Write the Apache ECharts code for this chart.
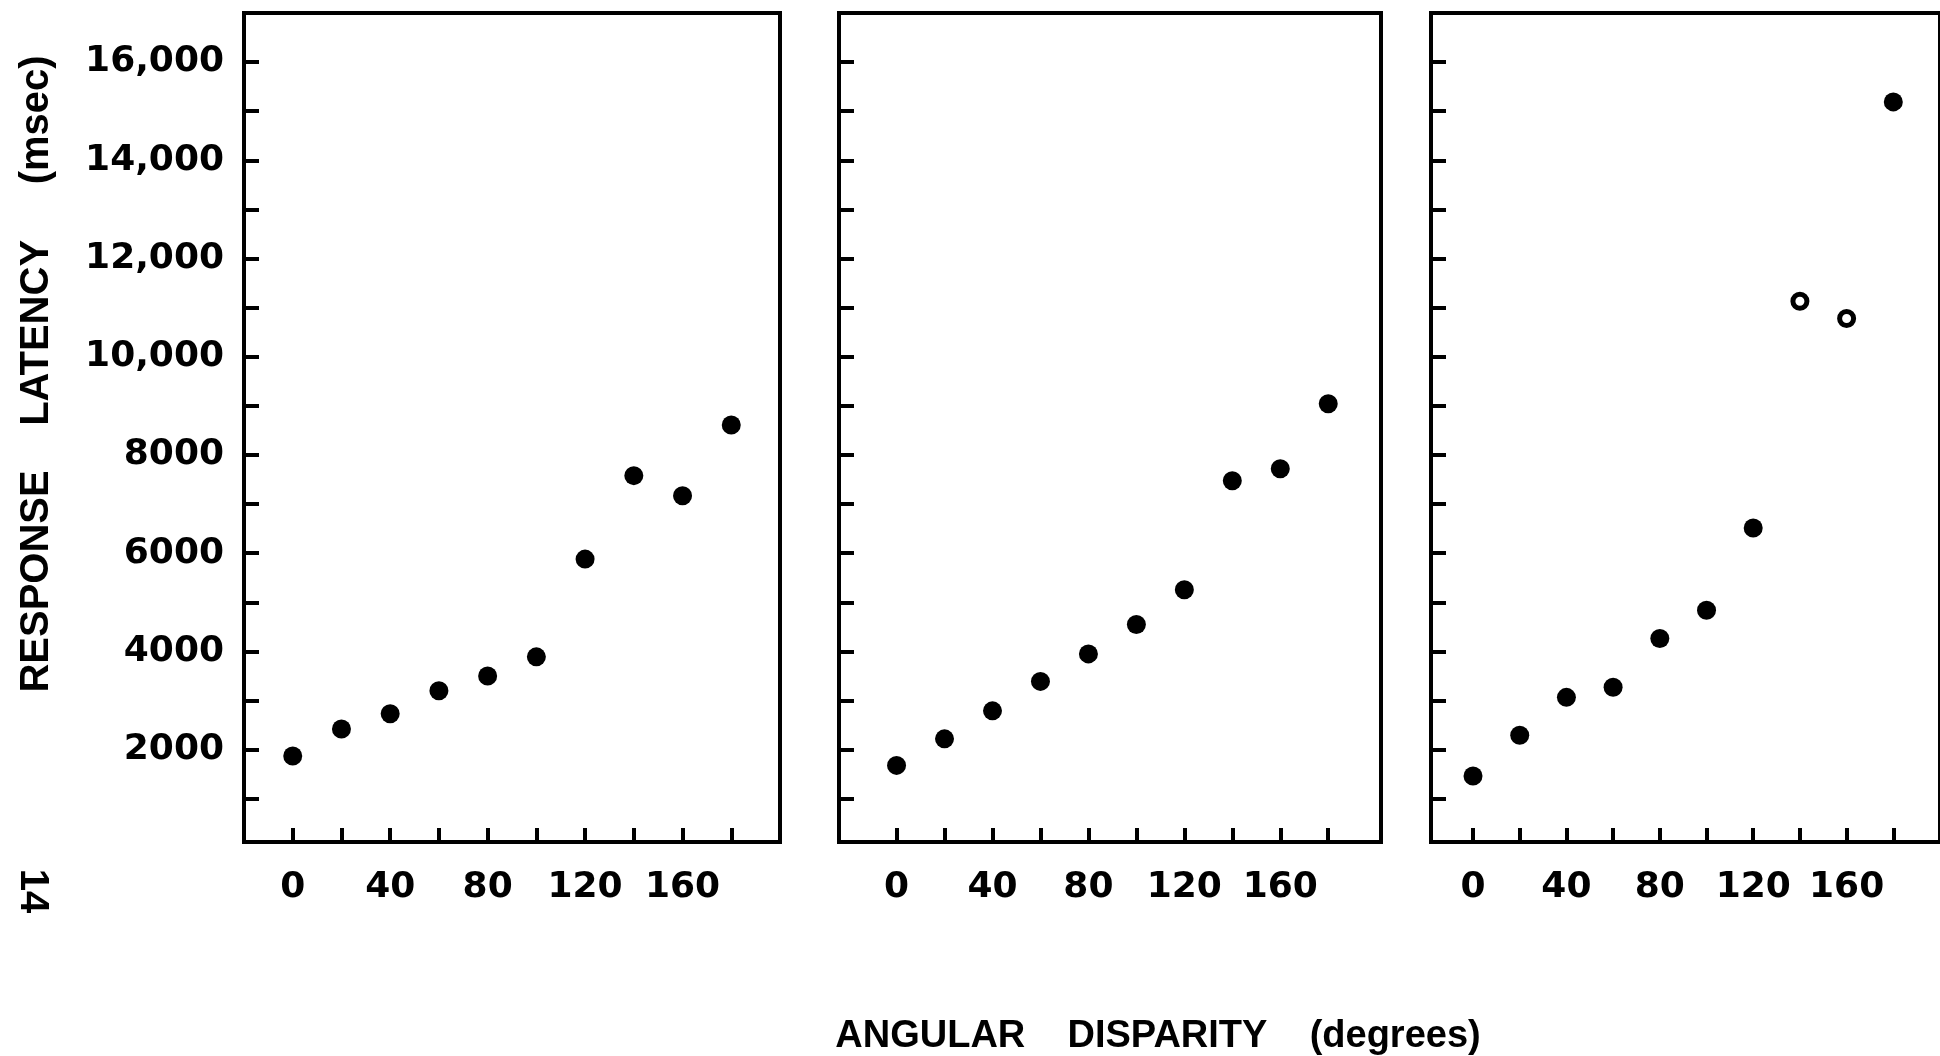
<!DOCTYPE html>
<html>
<head>
<meta charset="utf-8">
<title>Response latency vs angular disparity</title>
<script src="https://cdn.jsdelivr.net/npm/echarts@6/dist/echarts.min.js"></script>
<style>
  html, body { margin: 0; padding: 0; background: #fff; }
  #chart { width: 1940px; height: 1056px; }
</style>
</head>
<body>
<div id="chart"></div>
<script>
  // angular disparity (degrees), one point every 20
  var angles = [0, 20, 40, 60, 80, 100, 120, 140, 160, 180];
  // response latency (msec)
  var panelLeft = [1870, 2420, 2730, 3200, 3500, 3890, 5880, 7580, 7170, 8610];
  var panelMiddle = [1680, 2220, 2790, 3390, 3950, 4550, 5255, 7475, 7720, 9045];
  var panelRight = [1465, 2295, 3065, 3270, 4265, 4840, 6515, 11130, 10780, 15190];
  // the two faint, broken dots in the right panel
  var faintRight = [140, 160];

  var yTicks = [1000, 2000, 3000, 4000, 5000, 6000, 7000, 8000, 9000, 10000, 11000, 12000, 13000, 14000, 15000, 16000];
  var yLabels = [2000, 4000, 6000, 8000, 10000, 12000, 14000, 16000];
  var xTicks = [0, 20, 40, 60, 80, 100, 120, 140, 160, 180];
  var xLabels = [0, 40, 80, 120, 160];

  var ink = '#000';
  var font = 'DejaVu Sans';

  function fmtY(v) {
    // 10,000 and up get a comma, as in the figure
    if (v >= 10000) {
      return Math.floor(v / 1000) + ',000';
    }
    return String(v);
  }

  var grids = [
    {left: 244, top: 13, width: 536, height: 829},
    {left: 839, top: 13, width: 542, height: 829},
    {left: 1431, top: 13, width: 522, height: 829}
  ];
  var xRanges = [[-20, 200], [-24, 202], [-18, 200]];

  var xAxes = xRanges.map(function (r, i) {
    return {
      type: 'value',
      gridIndex: i,
      min: r[0],
      max: r[1],
      axisLine: {show: true, onZero: false, lineStyle: {color: ink, width: 4}},
      axisTick: {
        show: true, inside: true, length: 14,
        customValues: xTicks,
        lineStyle: {color: ink, width: 4}
      },
      axisLabel: {
        show: true, margin: 28,
        customValues: xLabels,
        color: ink, fontFamily: font, fontWeight: 'bold', fontSize: 36
      },
      splitLine: {show: false}
    };
  });

  var yAxes = grids.map(function (g, i) {
    return {
      type: 'value',
      gridIndex: i,
      min: 120,
      max: 17000,
      axisLine: {show: true, onZero: false, lineStyle: {color: ink, width: 4}},
      axisTick: {
        show: true, inside: true, length: 15,
        customValues: yTicks,
        lineStyle: {color: ink, width: 4}
      },
      axisLabel: {
        show: i === 0, margin: 20,
        customValues: yLabels,
        formatter: fmtY,
        color: ink, fontFamily: font, fontWeight: 'bold', fontSize: 36
      },
      splitLine: {show: false}
    };
  });

  function pts(values, faint) {
    return angles.map(function (a, k) {
      var item = {value: [a, values[k]]};
      if (faint && faint.indexOf(a) >= 0) {
        // printed as hollow, broken rings
        item.symbolSize = 14;
        item.itemStyle = {color: '#fff', borderColor: ink, borderWidth: 5, opacity: 1};
      }
      return item;
    });
  }

  var seriesValues = [panelLeft, panelMiddle, panelRight];
  var series = seriesValues.map(function (vals, i) {
    return {
      type: 'scatter',
      xAxisIndex: i,
      yAxisIndex: i,
      symbol: 'circle',
      symbolSize: 19,
      itemStyle: {color: ink, opacity: 1},
      emphasis: {disabled: true},
      data: pts(vals, i === 2 ? faintRight : null)
    };
  });

  var myChart = echarts.init(document.getElementById('chart'));
  var option = {
    backgroundColor: '#fff',
    animation: false,
    grid: grids.map(function (g) {
      return {
        left: g.left, top: g.top, width: g.width, height: g.height,
        show: true, borderColor: ink, borderWidth: 4, backgroundColor: 'transparent'
      };
    }),
    xAxis: xAxes,
    yAxis: yAxes,
    series: series,
    graphic: [
      {
        // y axis title, reads bottom to top
        type: 'text',
        x: 37, y: 374,
        rotation: Math.PI / 2,
        style: {
          text: 'RESPONSE    LATENCY     (msec)',
          fill: ink,
          font: 'bold 40px "Liberation Sans"',
          align: 'center',
          verticalAlign: 'middle'
        }
      },
      {
        type: 'text',
        x: 1158, y: 1037,
        style: {
          text: 'ANGULAR    DISPARITY    (degrees)',
          fill: ink,
          font: 'bold 38px "Liberation Sans"',
          align: 'center',
          verticalAlign: 'middle'
        }
      },
      {
        // page number printed sideways
        type: 'text',
        x: 32, y: 891,
        rotation: -Math.PI / 2,
        style: {
          text: '14',
          fill: ink,
          font: 'bold 40px "Liberation Sans"',
          align: 'center',
          verticalAlign: 'middle'
        }
      }
    ]
  };

  myChart.setOption(option);
</script>
</body>
</html>
